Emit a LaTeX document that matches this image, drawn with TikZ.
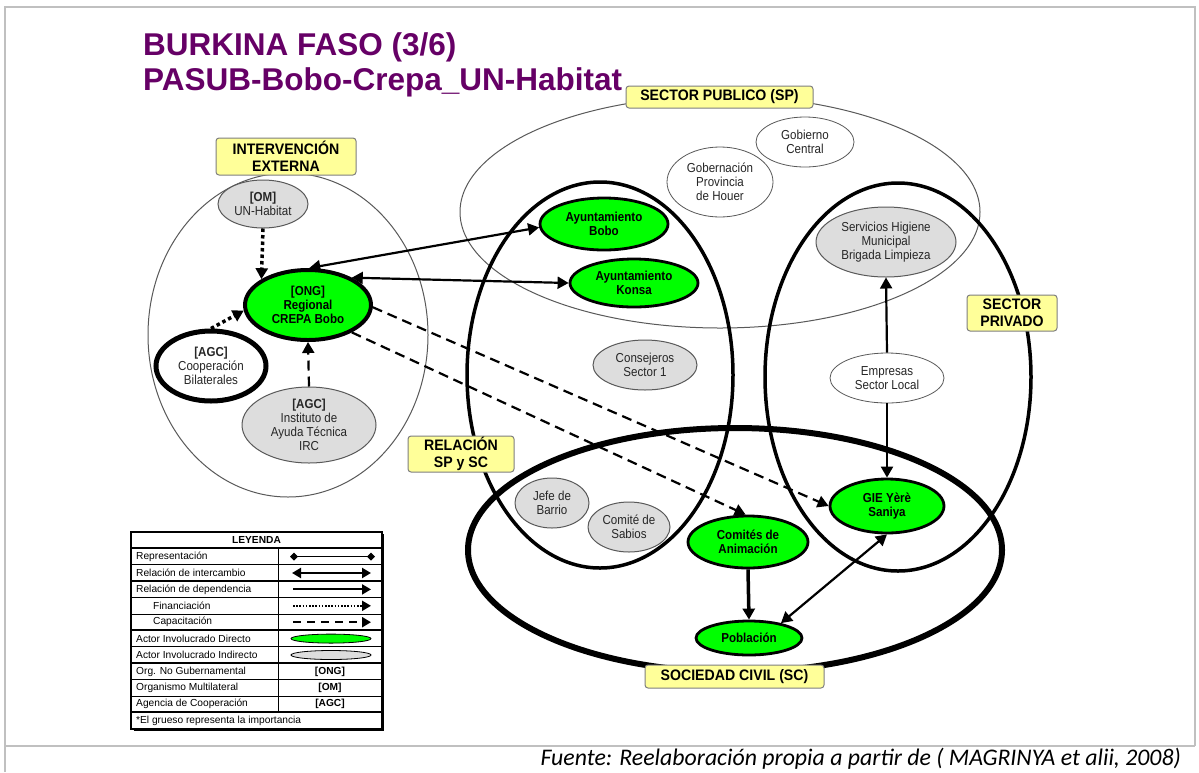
\documentclass[tikz,border=0pt]{standalone}
\usepackage{fontspec}
\setmainfont{Liberation Sans}
\newfontfamily\narrowfont[FakeStretch=0.89]{Liberation Sans}
\newfontfamily\labfont[FakeStretch=0.93]{Liberation Sans}
\newfontfamily\srcfont{Carlito}
\usetikzlibrary{arrows.meta,shapes.geometric}
\definecolor{actgreen}{HTML}{00FF00}
\definecolor{indgray}{HTML}{DDDDDD}
\definecolor{labyellow}{HTML}{FFFF99}
\definecolor{labborder}{HTML}{7F7F7F}
\definecolor{titlepurple}{HTML}{660066}
\definecolor{framegray}{HTML}{C0C0C0}
\definecolor{txtgray}{HTML}{262626}
\definecolor{linegray}{HTML}{595959}
\begin{document}
\begin{tikzpicture}[x=1pt,y=-1pt,
  lab/.style={draw=labborder, fill=labyellow, rounded corners=3pt, line width=1pt,
    font=\labfont\fontsize{15.2}{17}\selectfont\bfseries, align=center, inner sep=0pt},
  act/.style={ellipse, inner sep=0pt, align=center, text=txtgray,
    font=\narrowfont\fontsize{13}{14}\selectfont},
  direct/.style={act, fill=actgreen, draw=black, line width=2.8pt, text=black,
    font=\narrowfont\fontsize{13}{14}\selectfont\bfseries},
  indirect/.style={act, fill=indgray, draw=linegray, line width=1pt},
  other/.style={act, fill=white, draw=linegray, line width=0.8pt},
  xch/.style={line width=2.2pt, {Triangle[length=11pt,width=12pt]}-{Triangle[length=11pt,width=12pt]}},
  dep/.style={line width=2.2pt, -{Triangle[length=11pt,width=12pt]}},
  fin/.style={line width=3.5pt, dash pattern=on 3.5pt off 3pt, -{Triangle[length=11pt,width=12pt]}},
  capac/.style={line width=2.2pt, dash pattern=on 10pt off 6pt, -{Triangle[length=11pt,width=12pt]}},
  bigell/.style={line width=1pt, draw=linegray},
  legtxt/.style={anchor=west, font=\fontsize{10.2}{12}\selectfont, inner sep=0pt},
  legbold/.style={font=\fontsize{10.2}{12}\selectfont\bfseries, inner sep=0pt}
]
\useasboundingbox (0,0) rectangle (1199,772);
\fill[white] (0,0) rectangle (1199,772);

% frame
\draw[framegray,line width=2.5pt] (5,772) -- (5,7) -- (1195,7) -- (1195,746);
\draw[framegray,line width=2.5pt] (5,746) -- (1195,746);

% title
\node[anchor=base west, inner sep=0pt, text=titlepurple, font=\fontsize{31.5}{36}\selectfont\bfseries] (t1) at (143,55) {BURKINA FASO (3/6)};
\node[anchor=base west, inner sep=0pt, text=titlepurple, font=\fontsize{31.5}{36}\selectfont\bfseries] (t2) at (143,90) {PASUB-Bobo-Crepa\_UN-Habitat};

% big groupings
\draw[bigell] (720,212) ellipse [x radius=260pt, y radius=116pt];
\draw[bigell] (288,335) ellipse [x radius=140pt, y radius=162pt];
\draw[line width=3.5pt] (600,375) ellipse [x radius=133pt, y radius=193pt];
\draw[line width=3.5pt] (898,377) ellipse [x radius=133pt, y radius=194pt];
\draw[line width=6pt] (735,550) ellipse [x radius=267pt, y radius=122pt];

% actors
\node[indirect, minimum width=90pt, minimum height=48pt] (un) at (263,204) {\textbf{[OM]}\\UN-Habitat};
\node[direct, line width=4pt, minimum width=126pt, minimum height=70pt] (crepa) at (308,305) {[ONG]\\Regional\\CREPA Bobo};
\node[other, draw=black, line width=5pt, minimum width=110pt, minimum height=70pt] (coop) at (211,366) {\textbf{[AGC]}\\Cooperación\\Bilaterales};
\node[indirect, minimum width=134pt, minimum height=76pt] (irc) at (309,425) {\textbf{[AGC]}\\Instituto de\\Ayuda Técnica\\IRC};
\node[direct, minimum width=128pt, minimum height=52pt] (bobo) at (604,224) {Ayuntamiento\\Bobo};
\node[direct, minimum width=128pt, minimum height=48pt] (konsa) at (634,283) {Ayuntamiento\\Konsa};
\node[other, minimum width=106pt, minimum height=70pt] (gob) at (720,182) {Gobernación\\Provincia\\de Houer};
\node[other, minimum width=98pt, minimum height=50pt] (cen) at (805,142) {Gobierno\\Central};
\node[indirect, minimum width=140pt, minimum height=70pt] (serv) at (886,242) {Servicios Higiene\\Municipal\\Brigada Limpieza};
\node[other, minimum width=114pt, minimum height=50pt] (emp) at (887,378) {Empresas\\Sector Local};
\node[direct, minimum width=114pt, minimum height=54pt] (gie) at (887,506) {GIE Yèrè\\Saniya};
\node[indirect, minimum width=104pt, minimum height=50pt] (cons) at (645,365) {Consejeros\\Sector 1};
\node[indirect, minimum width=74pt, minimum height=50pt] (jefe) at (552,503) {Jefe de\\Barrio};
\node[indirect, minimum width=82pt, minimum height=50pt] (sab) at (629,527) {Comité de\\Sabios};
\node[direct, minimum width=120pt, minimum height=52pt] (com) at (748,542) {Comités de\\Animación};
\node[direct, minimum width=106pt, minimum height=34pt] (pob) at (749,638) {Población};

% relations
\draw[xch] (crepa.88) -- (bobo.183);
\draw[xch] (crepa.32) -- (konsa.west);
\draw[fin] (un.south) -- (crepa.151);
\draw[fin] (coop.north) -- (crepa.185);
\draw[capac] (irc.north) -- (crepa.south);
\draw[capac] (crepa.-32) -- (com.95);
\draw[capac] (crepa.-2) -- (gie.west);
\draw[dep, line width=3.5pt] (com.south) -- (pob.north);
\draw[xch] (pob.25) -- (gie.south);
\draw[dep] (emp.north) -- (serv.south);
\draw[dep] (emp.south) -- (gie.north);

% group labels
\node[lab, minimum width=187pt, minimum height=22pt] (lsp) at (719.5,97) {SECTOR PUBLICO (SP)};
\node[lab, minimum width=140pt, minimum height=37pt] (lie) at (286,156.5) {INTERVENCIÓN\\EXTERNA};
\node[lab, minimum width=90pt, minimum height=36pt] (lpr) at (1012,313) {SECTOR\\PRIVADO};
\node[lab, minimum width=106pt, minimum height=36pt] (lrel) at (461,454) {RELACIÓN\\SP y SC};
\node[lab, minimum width=179pt, minimum height=23pt] (lsc) at (734.5,676.5) {SOCIEDAD CIVIL (SC)};

% legend
\fill[white] (131,532) rectangle (382,729);
\foreach \i in {2,4,5,7,9,10}{
  \draw[line width=0.8pt] (131,{532+16.4*\i}) -- (382,{532+16.4*\i});
}
\foreach \i in {1,3,6,8,11}{
  \draw[line width=2pt] (131,{532+16.4*\i}) -- (382,{532+16.4*\i});
}
\draw[line width=0.8pt] (278,{532+16.4}) -- (278,{532+16.4*11});
\draw[line width=1.6pt] (131,532) rectangle (382,729);
\draw[line width=1.6pt] (133.5,730.6) -- (383.6,730.6) -- (383.6,534);

\node[legbold] (lg0) at (256.5,{532+16.4*0.5}) {LEYENDA};
\node[legtxt] (lg1) at (136,{532+16.4*1.5}) {Representación};
\node[legtxt] (lg2) at (136,{532+16.4*2.5}) {Relación de intercambio};
\node[legtxt] (lg3) at (136,{532+16.4*3.5}) {Relación de dependencia};
\node[legtxt] (lg4) at (153,{532+16.4*4.5}) {Financiación};
\node[legtxt] (lg5) at (153,{532+16.4*5.5}) {Capacitación};
\node[legtxt] (lg6) at (136,{532+16.4*6.5}) {Actor Involucrado Directo};
\node[legtxt] (lg7) at (136,{532+16.4*7.5}) {Actor Involucrado Indirecto};
\node[legtxt] (lg8) at (136,{532+16.4*8.5}) {Org. No Gubernamental};
\node[legtxt] (lg9) at (136,{532+16.4*9.5}) {Organismo Multilateral};
\node[legtxt] (lg10) at (136,{532+16.4*10.5}) {Agencia de Cooperación};
\node[legtxt] (lg11) at (136,{532+16.4*11.5}) {*El grueso representa la importancia};

\node[legbold] (lgo) at (330,{532+16.4*8.5}) {[ONG]};
\node[legbold] (lgm) at (330,{532+16.4*9.5}) {[OM]};
\node[legbold] (lga) at (330,{532+16.4*10.5}) {[AGC]};

\coordinate (s1a) at (290,{532+16.4*1.5}); \coordinate (s1b) at (375,{532+16.4*1.5});
\coordinate (s2a) at (292,{532+16.4*2.5}); \coordinate (s2b) at (371,{532+16.4*2.5});
\coordinate (s3a) at (293,{532+16.4*3.5}); \coordinate (s3b) at (371,{532+16.4*3.5});
\coordinate (s4a) at (293,{532+16.4*4.5}); \coordinate (s4b) at (371,{532+16.4*4.5});
\coordinate (s5a) at (293,{532+16.4*5.5}); \coordinate (s5b) at (371,{532+16.4*5.5});
\draw[line width=1.2pt, {Diamond[length=8pt,width=8pt]}-{Diamond[length=8pt,width=8pt]}] (s1a) -- (s1b);
\draw[line width=2.2pt, {Triangle[length=9pt,width=10pt]}-{Triangle[length=9pt,width=10pt]}] (s2a) -- (s2b);
\draw[line width=2pt, -{Triangle[length=9pt,width=10pt]}] (s3a) -- (s3b);
\draw[line width=2pt, dash pattern=on 1.6pt off 1.6pt, -{Triangle[length=9pt,width=10pt]}] (s4a) -- (s4b);
\draw[line width=2.2pt, dash pattern=on 8pt off 6pt, -{Triangle[length=9pt,width=10pt]}] (s5a) -- (s5b);
\node[ellipse, fill=actgreen, draw=black, line width=0.8pt, minimum width=80pt, minimum height=9pt, inner sep=0pt] (lgd) at (331,{532+16.4*6.5}) {};
\node[ellipse, fill=indgray, draw=black, line width=0.8pt, minimum width=80pt, minimum height=9pt, inner sep=0pt] (lgi) at (331,{532+16.4*7.5}) {};

% source
\node[anchor=base east, inner sep=0pt, font=\srcfont\itshape\fontsize{23.8}{27}\selectfont] (src) at (1181,765) {Fuente: Reelaboración propia a partir de ( MAGRINYA et alii, 2008)};
\end{tikzpicture}
\end{document}
